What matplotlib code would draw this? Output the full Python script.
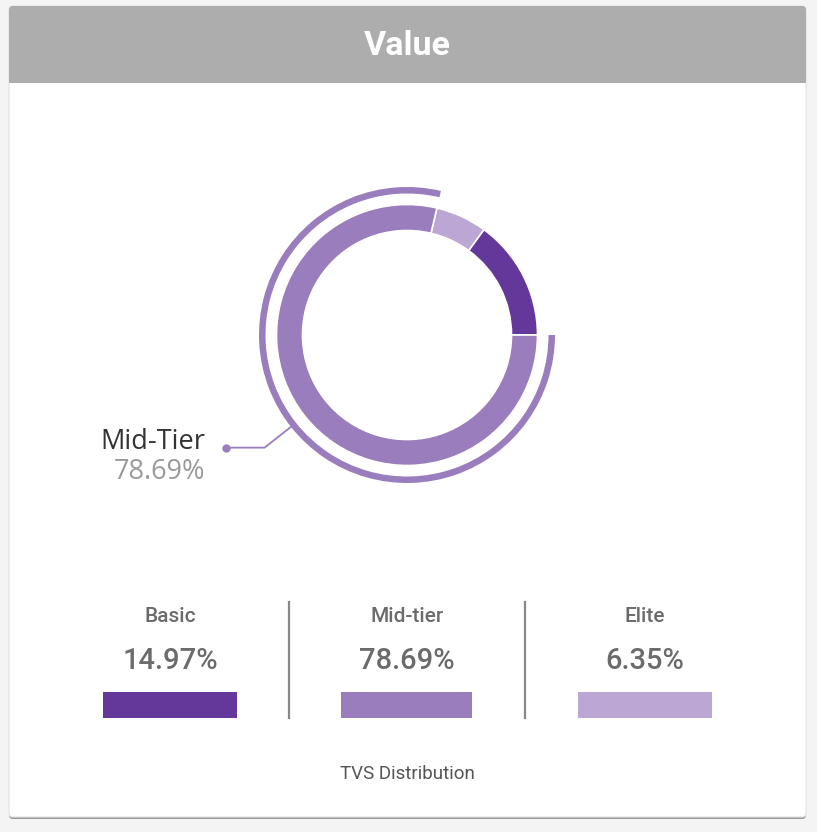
import matplotlib
matplotlib.use("Agg")
import matplotlib.pyplot as plt
from matplotlib.patches import Wedge, Rectangle, FancyBboxPatch
import numpy as np

plt.rcParams['font.family'] = ['Roboto', 'DejaVu Sans']

title = "Value"
categories = ["Basic", "Mid-tier", "Elite"]
values = [14.97, 78.69, 6.35]
colors = ["#64379a", "#9a7dbc", "#bca6d4"]
highlight_label = "Mid-Tier"
highlight_index = 1
footer = "TVS Distribution"

W, H = 817, 832
fig = plt.figure(figsize=(W / 100, H / 100), dpi=100)
fig.patch.set_facecolor("#f4f4f4")

# background / card axes in pixel coordinates
bg = fig.add_axes([0, 0, 1, 1])
bg.set_xlim(0, W)
bg.set_ylim(H, 0)
bg.axis("off")

# card shadow and body
bg.add_patch(FancyBboxPatch((9, 7), 797, 812, boxstyle="round,pad=0,rounding_size=4",
                            fc="#9a9a9a", ec="none", zorder=0))
bg.add_patch(FancyBboxPatch((9, 6), 797, 811, boxstyle="round,pad=0,rounding_size=4",
                            fc="white", ec="#e2e2e2", lw=0.8, zorder=1))
bg.add_patch(FancyBboxPatch((9, 6), 797, 77, boxstyle="round,pad=0,rounding_size=4",
                            fc="#adadad", ec="none", zorder=2))
bg.add_patch(Rectangle((9, 70), 797, 13, fc="#adadad", ec="none", zorder=2))
bg.text(407, 46, title, ha="center", va="center", fontsize=24.5, fontweight="bold",
        color="white", zorder=3)

# donut
cx, cy = 407, 335
S = 420
pie_ax = fig.add_axes([(cx - S / 2) / W, (H - cy - S / 2) / H, S / W, S / H])
pie_ax.set_xlim(-S / 2, S / 2)
pie_ax.set_ylim(-S / 2, S / 2)
pie_ax.axis("off")

order = [0, 2, 1]  # Basic, Elite, Mid-tier counter-clockwise from 3 o'clock
pie_vals = [values[i] for i in order]
pie_cols = [colors[i] for i in order]
wedges, _ = pie_ax.pie(pie_vals, colors=pie_cols, radius=130.5, startangle=0,
                       counterclock=True,
                       wedgeprops=dict(width=26, edgecolor="white", linewidth=1.2))
pie_ax.set_xlim(-S / 2, S / 2)
pie_ax.set_ylim(-S / 2, S / 2)

hw = wedges[order.index(highlight_index)]
t1, t2 = hw.theta1, hw.theta2
pie_ax.add_patch(Wedge((0, 0), 148, t1, t2, width=6.5, fc=colors[highlight_index], ec="none"))

mid = np.deg2rad((t1 + t2) / 2)
r0 = 146
x0, y0 = r0 * np.cos(mid), r0 * np.sin(mid)
elbow_x, elbow_y = x0 - 28, y0 - 22
dot_x = elbow_x - 39
pie_ax.plot([x0, elbow_x, dot_x], [y0, elbow_y, elbow_y], color=colors[highlight_index],
            lw=1.3, clip_on=False)
pie_ax.plot([dot_x], [elbow_y], "o", color=colors[highlight_index], ms=5, clip_on=False)
pie_ax.text(dot_x - 20, elbow_y + 6, highlight_label, ha="right", va="center",
            fontsize=19.5, color="#333333", family=["Open Sans", "DejaVu Sans"])
pie_ax.text(dot_x - 20, elbow_y - 24, f"{values[highlight_index]:.2f}%", ha="right",
            va="center", fontsize=19.5, color="#999999", family=["Open Sans", "DejaVu Sans"])

# bottom summary
col_x = [170, 407, 645]
bar_w = [134, 131, 134]
for i, cat in enumerate(categories):
    bg.text(col_x[i], 617, cat, ha="center", va="center", fontsize=15, color="#6b6b6b",
            fontweight="medium", zorder=3)
    bg.text(col_x[i], 661, f"{values[i]:.2f}%", ha="center", va="center", fontsize=21,
            color="#6b6b6b", fontweight="medium", zorder=3)
    bg.add_patch(Rectangle((col_x[i] - bar_w[i] / 2, 692), bar_w[i], 26, fc=colors[i],
                           ec="none", zorder=3))
for xd in [289, 525]:
    bg.plot([xd, xd], [602, 718], color="#888888", lw=1.6, zorder=3)

bg.text(407, 774, footer, ha="center", va="center", fontsize=13.5, color="#555555", zorder=3)

fig.savefig("out.png", dpi=100, facecolor=fig.get_facecolor())
